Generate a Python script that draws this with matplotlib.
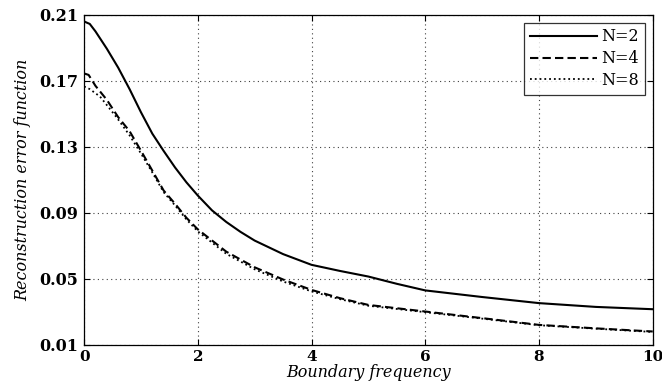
import matplotlib
matplotlib.use("Agg")
import matplotlib.pyplot as plt

# values
x_n2 = [0, 0.1, 0.2, 0.4, 0.6, 0.8, 1.0, 1.2, 1.4, 1.6, 1.8, 2.0, 2.25, 2.5, 2.75,
        3, 3.5, 4, 4.5, 5, 5.5, 6, 7, 8, 9, 10]
err_n2 = [0.206, 0.2045, 0.2, 0.1895, 0.178, 0.165, 0.151, 0.138, 0.1275, 0.1175,
          0.1085, 0.1005, 0.0915, 0.0845, 0.0785, 0.0732, 0.065, 0.0585, 0.0548,
          0.0514, 0.047, 0.043, 0.039, 0.0353, 0.033, 0.0316]

x_n4 = [0, 0.08, 0.2, 0.4, 0.6, 0.8, 1.0, 1.2, 1.4, 1.6, 1.8, 2.0, 2.5, 3, 3.5,
        4, 4.5, 5, 6, 7, 8, 9, 10]
err_n4 = [0.1745, 0.1736, 0.167, 0.1585, 0.148, 0.1395, 0.1277, 0.1156, 0.1035,
          0.0955, 0.087, 0.080, 0.0665, 0.057, 0.0496, 0.0433, 0.0383, 0.0342,
          0.0302, 0.0262, 0.0221, 0.020, 0.0181]

x_n8 = [0, 0.1, 0.28, 0.57, 0.8, 1.0, 1.2, 1.4, 1.6, 1.8, 2.0, 2.5, 3, 3.5,
        4, 4.5, 5, 6, 7, 8, 9, 10]
err_n8 = [0.1666, 0.165, 0.1605, 0.148, 0.137, 0.126, 0.1145, 0.1025, 0.0945,
          0.086, 0.0788, 0.0652, 0.0558, 0.0484, 0.0424, 0.0377, 0.0337,
          0.0298, 0.0259, 0.0219, 0.0198, 0.0178]

labels = ["N=2", "N=4", "N=8"]
xticks = [0, 2, 4, 6, 8, 10]
yticks = [0.01, 0.05, 0.09, 0.13, 0.17, 0.21]

plt.rcParams["font.family"] = "DejaVu Serif"

fig = plt.figure(figsize=(6.62, 3.91), dpi=100)
ax = fig.add_axes([0.127, 0.118, 0.859, 0.844])

ax.plot(x_n2, err_n2, "k-", lw=1.5, label=labels[0])
ax.plot(x_n4, err_n4, "k--", lw=1.5, dashes=(4, 2), label=labels[1])
ax.plot(x_n8, err_n8, "k:", lw=1.3, label=labels[2])

ax.set_xlim(0, 10)
ax.set_ylim(0.01, 0.21)
ax.set_xticks(xticks)
ax.set_yticks(yticks)
ax.set_xticklabels([str(t) for t in xticks], fontweight="bold", fontsize=11)
ax.set_yticklabels(["%.2f" % t for t in yticks], fontweight="bold", fontsize=11.5)
ax.tick_params(direction="in", top=True, right=True, length=4, width=0.8, pad=4)
ax.grid(True, color="0.25", linestyle=(0, (1, 3)), linewidth=0.8)

for s in ax.spines.values():
    s.set_linewidth(0.9)

ax.set_xlabel("Boundary frequency", fontstyle="italic", fontsize=11.5, labelpad=0)
ax.set_ylabel("Reconstruction error function", fontstyle="italic", fontsize=11.5, labelpad=6)

leg = ax.legend(loc="upper right", fontsize=11.5, frameon=True, fancybox=False,
                handlelength=4.2, handletextpad=0.3, borderpad=0.35,
                labelspacing=0.3, borderaxespad=0.5)
leg.get_frame().set_edgecolor("black")
leg.get_frame().set_linewidth(0.9)

fig.savefig("out.png", dpi=100)
